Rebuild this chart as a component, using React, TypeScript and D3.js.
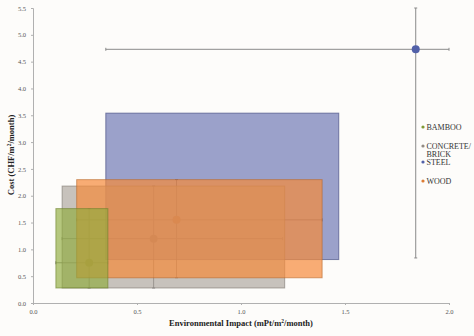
import React, { useEffect, useRef } from 'react';
import * as d3 from 'd3';

// series in legend order
const materials = ['BAMBOO', 'CONCRETE/BRICK', 'STEEL', 'WOOD'];
const legendLines = [['BAMBOO'], ['CONCRETE/', 'BRICK'], ['STEEL'], ['WOOD']];
const colors = ['#8fab3a', '#a39b92', '#4a56a2', '#f58a3a'];

// central point
const impact = [0.27, 0.58, 1.84, 0.69];
const cost = [0.75, 1.2, 4.73, 1.55];

// error bar ranges
const impactLow = [0.11, 0.14, 0.35, 0.21];
const impactHigh = [0.36, 1.2, 2.0, 1.39];
const costLow = [0.28, 0.28, 0.84, 0.47];
const costHigh = [1.76, 2.18, 5.5, 2.3];

// shaded ranges
const boxXLow = [0.11, 0.14, 0.35, 0.21];
const boxXHigh = [0.36, 1.21, 1.47, 1.39];
const boxYLow = [0.28, 0.28, 0.81, 0.47];
const boxYHigh = [1.76, 2.18, 3.54, 2.3];

const xTicks = [0, 0.5, 1.0, 1.5, 2.0];
const yTicks = [0, 0.5, 1.0, 1.5, 2.0, 2.5, 3.0, 3.5, 4.0, 4.5, 5.0, 5.5];

const boxOpacity = [0.65, 0.6, 0.55, 0.7];
const drawOrder = [2, 1, 3, 0];

const App: React.FC = () => {
  const svgRef = useRef<SVGSVGElement>(null);

  useEffect(() => {
    if (!svgRef.current) return;
    const svg = d3.select(svgRef.current);
    svg.selectAll('*').remove();

    const font = '"Liberation Serif", "DejaVu Serif", serif';
    const left = 33, right = 449, top = 8, bottom = 303;

    const x = d3.scaleLinear().domain([0, 2]).range([left, right]);
    const y = d3.scaleLinear().domain([0, 5.5]).range([bottom, top]);

    svg.append('rect').attr('width', 474).attr('height', 336).attr('fill', '#fdfcfa');

    // axes
    const xAxis = svg.append('g')
      .attr('transform', `translate(0,${bottom})`)
      .call(d3.axisBottom(x).tickValues(xTicks).tickSize(2).tickFormat(d3.format('.1f')));
    const yAxis = svg.append('g')
      .attr('transform', `translate(${left},0)`)
      .call(d3.axisLeft(y).tickValues(yTicks).tickSize(2).tickFormat(d3.format('.1f')));
    [xAxis, yAxis].forEach(a => {
      a.select('.domain').attr('stroke', '#b0b0b0');
      a.selectAll('.tick line').attr('stroke', '#b0b0b0');
      a.selectAll('.tick text')
        .attr('font-family', font)
        .attr('font-size', 6.5)
        .attr('fill', '#555');
    });
    xAxis.selectAll('.tick text').attr('dy', '0.9em');
    yAxis.selectAll('.tick text').attr('dx', '-0.3em');

    // error bars
    const err = svg.append('g').attr('stroke', '#8a8a8a').attr('stroke-width', 1);
    materials.forEach((_, i) => {
      const cx = x(impact[i]), cy = y(cost[i]);
      err.append('line').attr('x1', x(impactLow[i])).attr('x2', x(impactHigh[i])).attr('y1', cy).attr('y2', cy);
      err.append('line').attr('x1', cx).attr('x2', cx).attr('y1', y(costLow[i])).attr('y2', y(costHigh[i]));
      // caps
      [impactLow[i], impactHigh[i]].forEach(v => {
        err.append('line').attr('x1', x(v)).attr('x2', x(v)).attr('y1', cy - 1.5).attr('y2', cy + 1.5);
      });
      [costLow[i], costHigh[i]].forEach(v => {
        err.append('line').attr('x1', cx - 1.5).attr('x2', cx + 1.5).attr('y1', y(v)).attr('y2', y(v));
      });
    });

    // markers under the boxes
    materials.forEach((_, i) => {
      if (i === 2) return;
      svg.append('circle')
        .attr('cx', x(impact[i])).attr('cy', y(cost[i])).attr('r', 4)
        .attr('fill', d3.color(colors[i])!.darker(0.4).toString());
    });

    // shaded boxes
    drawOrder.forEach(i => {
      svg.append('rect')
        .attr('x', x(boxXLow[i]))
        .attr('y', y(boxYHigh[i]))
        .attr('width', x(boxXHigh[i]) - x(boxXLow[i]))
        .attr('height', y(boxYLow[i]) - y(boxYHigh[i]))
        .attr('fill', colors[i])
        .attr('fill-opacity', boxOpacity[i])
        .attr('stroke', d3.color(colors[i])!.darker(0.8).toString())
        .attr('stroke-opacity', 0.6)
        .attr('stroke-width', 1);
    });

    // steel point on top
    svg.append('circle')
      .attr('cx', x(impact[2])).attr('cy', y(cost[2])).attr('r', 4)
      .attr('fill', '#5160a8');

    // legend
    const legendY = [127, 146, 162, 181];
    legendLines.forEach((lines, i) => {
      svg.append('circle')
        .attr('cx', 423).attr('cy', legendY[i]).attr('r', 1.6)
        .attr('fill', i === 2 ? '#5160a8' : d3.color(colors[i])!.darker(0.3).toString());
      lines.forEach((t, j) => {
        svg.append('text')
          .attr('x', 426.5).attr('y', legendY[i] + j * 8.5)
          .attr('dy', '0.35em')
          .attr('font-family', font)
          .attr('font-size', 8)
          .attr('fill', '#333')
          .text(t);
      });
    });

    // axis titles
    const xt = svg.append('text')
      .attr('x', 241).attr('y', 326)
      .attr('text-anchor', 'middle')
      .attr('font-family', font)
      .attr('font-weight', 'bold')
      .attr('font-size', 8.5)
      .attr('fill', '#222');
    xt.append('tspan').text('Environmental Impact (mPt/m');
    xt.append('tspan').attr('font-size', 5.5).attr('dy', -3).text('2');
    xt.append('tspan').attr('dy', 3).text('/month)');

    const yt = svg.append('text')
      .attr('transform', 'translate(14,155) rotate(-90)')
      .attr('text-anchor', 'middle')
      .attr('font-family', font)
      .attr('font-weight', 'bold')
      .attr('font-size', 8.5)
      .attr('fill', '#222');
    yt.append('tspan').text('Cost (CHF/m');
    yt.append('tspan').attr('font-size', 5.5).attr('dy', -3).text('2');
    yt.append('tspan').attr('dy', 3).text('/month)');
  }, []);

  return (
    <svg
      ref={svgRef}
      width={474}
      height={336}
      style={{ position: 'absolute', left: 0, top: 0, display: 'block' }}
    />
  );
};

export default App;
